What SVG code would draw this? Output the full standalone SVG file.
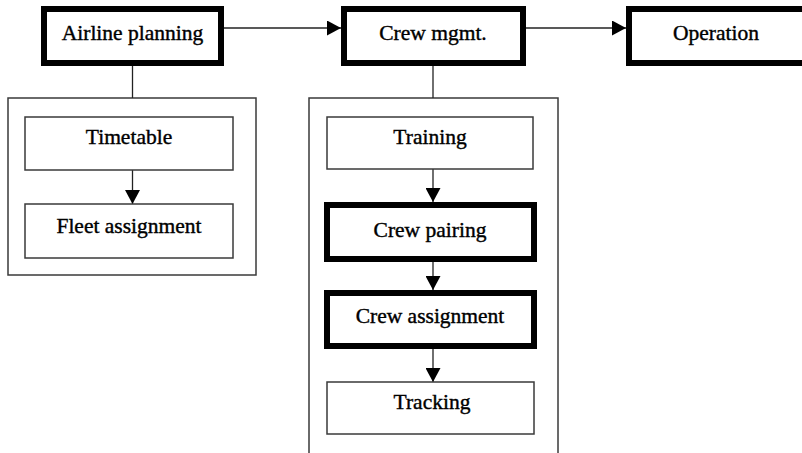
<svg xmlns="http://www.w3.org/2000/svg" width="802" height="453" viewBox="0 0 802 453">
<style>
.thick{fill:#fff;stroke:#000;stroke-width:6}
.thin{fill:#fff;stroke:#3a3a3a;stroke-width:1.5}
.cont{fill:none;stroke:#3a3a3a;stroke-width:1.5}
text{font-family:'Liberation Serif','Times New Roman',serif;font-size:21.5px;fill:#000;text-anchor:middle;stroke:#000;stroke-width:0.4}
.ln{stroke:#222;stroke-width:1.3;fill:none}
</style>
<defs>
<marker id="ah" markerUnits="userSpaceOnUse" markerWidth="14" markerHeight="15" refX="14" refY="7.5" orient="auto">
<path d="M0,0 L14,7.5 L0,15 z" fill="#000"/>
</marker>
</defs>
<rect fill="#fff" width="802" height="453"/>
<g id="container-planning"><rect class="cont" x="8" y="98" width="248" height="177"/></g>
<g id="container-crew"><rect class="cont" x="309" y="98" width="249" height="370"/></g>
<g id="connectors">
<line class="ln" x1="224" y1="28" x2="341" y2="28" marker-end="url(#ah)"/>
<line class="ln" x1="526" y1="28" x2="626" y2="28" marker-end="url(#ah)"/>
<line class="ln" x1="132.5" y1="66" x2="132.5" y2="98"/>
<line class="ln" x1="433" y1="66" x2="433" y2="98"/>
<line class="ln" x1="132.5" y1="170" x2="132.5" y2="204" marker-end="url(#ah)"/>
<line class="ln" x1="433" y1="169" x2="433" y2="202" marker-end="url(#ah)"/>
<line class="ln" x1="433" y1="262" x2="433" y2="290" marker-end="url(#ah)"/>
<line class="ln" x1="433" y1="349" x2="433" y2="382" marker-end="url(#ah)"/>
</g>
<g id="airline-planning"><rect class="thick" x="44" y="9" width="177" height="54"/><text x="132.5" y="40">Airline planning</text></g>
<g id="crew-mgmt"><rect class="thick" x="344" y="9" width="179" height="54"/><text x="433" y="40">Crew mgmt.</text></g>
<g id="operation"><rect class="thick" x="629" y="9" width="200" height="54"/><text x="716" y="40">Operation</text></g>
<g id="timetable"><rect class="thin" x="25" y="117" width="208" height="53"/><text x="129" y="144">Timetable</text></g>
<g id="fleet-assignment"><rect class="thin" x="25" y="204" width="208" height="54"/><text x="129" y="233">Fleet assignment</text></g>
<g id="training"><rect class="thin" x="327" y="117" width="206" height="52"/><text x="430" y="144">Training</text></g>
<g id="crew-pairing"><rect class="thick" x="327" y="205" width="207" height="54"/><text x="430" y="237">Crew pairing</text></g>
<g id="crew-assignment"><rect class="thick" x="327" y="293" width="207" height="53"/><text x="430" y="323">Crew assignment</text></g>
<g id="tracking"><rect class="thin" x="327" y="382" width="207" height="52"/><text x="432" y="409">Tracking</text></g>
</svg>
